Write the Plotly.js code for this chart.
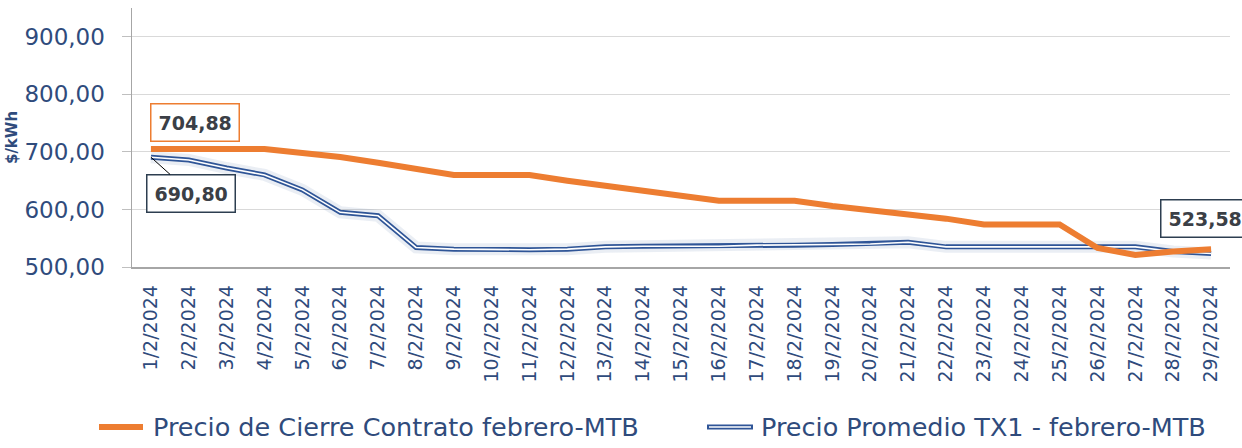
<!DOCTYPE html>
<html>
<head>
<meta charset="utf-8">
<script src="https://cdn.plot.ly/plotly-3.0.1.min.js"></script>
<style>
  html, body { margin: 0; padding: 0; background: #ffffff; }
  #chart { width: 1242px; height: 448px; }
</style>
</head>
<body>
<div id="chart"></div>
<script>
// ---- data ----
const categories = ["1/2/2024","2/2/2024","3/2/2024","4/2/2024","5/2/2024","6/2/2024","7/2/2024","8/2/2024","9/2/2024","10/2/2024",
  "11/2/2024","12/2/2024","13/2/2024","14/2/2024","15/2/2024","16/2/2024","17/2/2024","18/2/2024","19/2/2024","20/2/2024",
  "21/2/2024","22/2/2024","23/2/2024","24/2/2024","25/2/2024","26/2/2024","27/2/2024","28/2/2024","29/2/2024"];
const cierreValues = [704.88,704.88,704.88,704.88,698,691,681,670,660,660,
  660,650,641,632,623,615,615,615,606,599,
  592,584,574,574,574,533,521,527,531];
const tx1Values = [690.80,686,672,660,634,595,589,534,531,530,
  530,531,535,536,536,536,538,538,539,540,
  543,535,535,535,536,535,535,527,523.58];
const seriesNames = ["Precio de Cierre Contrato febrero-MTB", "Precio Promedio TX1 - febrero-MTB"];
const yTickValues = [500, 600, 700, 800, 900];
const yTitle = "$/kWh";
const labelFirstCierre = "704,88";
const labelFirstTx1 = "690,80";
const labelLastTx1 = "523,58";

// ---- styles ----
const ORANGE = "#ED7D31";
const BLUE = "#2F5597";
const TEXT = "#2F4B7C";
const FONT = "DejaVu Sans, sans-serif";

// plot geometry helpers for the manual legend (paper coords)
const L = 132, R = 12, T = 8, B = 181, W = 1242, H = 448;
const pw = W - L - R, ph = H - T - B;
const px = v => (v - L) / pw;
const py = v => (H - B - v) / ph;

const traces = [
  { x: categories, y: tx1Values, type: "scatter", mode: "lines", showlegend: false, hoverinfo: "skip",
    line: { color: "rgba(47,85,151,0.10)", width: 12 } },
  { x: categories, y: tx1Values, type: "scatter", mode: "lines", name: seriesNames[1], showlegend: false,
    line: { color: BLUE, width: 5 } },
  { x: categories, y: tx1Values, type: "scatter", mode: "lines", showlegend: false, hoverinfo: "skip",
    line: { color: "#ffffff", width: 1.6 } },
  { x: categories, y: cierreValues, type: "scatter", mode: "lines", name: seriesNames[0], showlegend: false,
    line: { color: ORANGE, width: 6 } }
];

const last = categories.length - 1;
const boxFont = { family: FONT, size: 19, color: "#3B3F46", weight: "bold" };

const annotations = [
  { x: categories[0], y: cierreValues[0], xref: "x", yref: "y", text: "<b>" + labelFirstCierre + "</b>",
    showarrow: true, arrowcolor: "rgba(0,0,0,0)", ax: 44, ay: -27,
    font: boxFont, bgcolor: "#ffffff", bordercolor: ORANGE, borderwidth: 1.5, borderpad: 7 },
  { x: categories[0], y: tx1Values[0], xref: "x", yref: "y", text: "<b>" + labelFirstTx1 + "</b>",
    showarrow: true, arrowhead: 0, arrowwidth: 1, arrowcolor: "#000000", ax: 40, ay: 36,
    font: boxFont, bgcolor: "#ffffff", bordercolor: "#2D3E50", borderwidth: 1.5, borderpad: 7 },
  { x: categories[last], y: tx1Values[last], xref: "x", yref: "y", text: "<b>" + labelLastTx1 + "</b>",
    showarrow: true, arrowcolor: "rgba(0,0,0,0)", ax: -6, ay: -35,
    font: boxFont, bgcolor: "#ffffff", bordercolor: "#2D3E50", borderwidth: 1.5, borderpad: 7 },
  // legend texts
  { xref: "paper", yref: "paper", x: px(151), y: py(427), xanchor: "left", yanchor: "middle",
    text: seriesNames[0], showarrow: false, font: { family: FONT, size: 25.5, color: TEXT } },
  { xref: "paper", yref: "paper", x: px(759), y: py(427), xanchor: "left", yanchor: "middle",
    text: seriesNames[1], showarrow: false, font: { family: FONT, size: 25.5, color: TEXT } }
];

const shapes = [
  { type: "line", xref: "paper", yref: "paper", x0: px(99), x1: px(143), y0: py(427), y1: py(427),
    line: { color: ORANGE, width: 6 } },
  { type: "line", xref: "paper", yref: "paper", x0: px(707), x1: px(753), y0: py(427), y1: py(427),
    line: { color: BLUE, width: 5 } },
  { type: "line", xref: "paper", yref: "paper", x0: px(709), x1: px(751), y0: py(427), y1: py(427),
    line: { color: "#ffffff", width: 1.6 } }
];

const layout = {
  width: W, height: H,
  margin: { l: L, r: R, t: T, b: B, pad: 0 },
  paper_bgcolor: "#ffffff", plot_bgcolor: "#ffffff",
  separators: ",.",
  showlegend: false,
  font: { family: FONT, color: TEXT },
  xaxis: {
    type: "category", categoryorder: "array", categoryarray: categories,
    range: [-0.5, categories.length - 0.5],
    tickangle: -90, tickfont: { family: FONT, size: 19, color: TEXT },
    showline: true, linecolor: "#A6A6A6", linewidth: 1.5,
    showgrid: false, ticks: "", ticklabelstandoff: 9, zeroline: false, fixedrange: true
  },
  yaxis: {
    range: [500, 950], tickvals: yTickValues, tickformat: ".2f",
    tickfont: { family: FONT, size: 23, color: TEXT },
    showline: true, linecolor: "#A6A6A6", linewidth: 1.5,
    ticks: "outside", ticklen: 9, tickcolor: "#BFBFBF", tickwidth: 1,
    showgrid: true, gridcolor: "#D9D9D9", gridwidth: 1,
    ticklabelstandoff: 12, zeroline: false, fixedrange: true,
    title: { text: "<b>" + yTitle + "</b>", font: { family: FONT, size: 15, color: TEXT }, standoff: 3 }
  },
  annotations: annotations,
  shapes: shapes
};

Plotly.newPlot("chart", traces, layout, { displayModeBar: false, staticPlot: true });
</script>
</body>
</html>
